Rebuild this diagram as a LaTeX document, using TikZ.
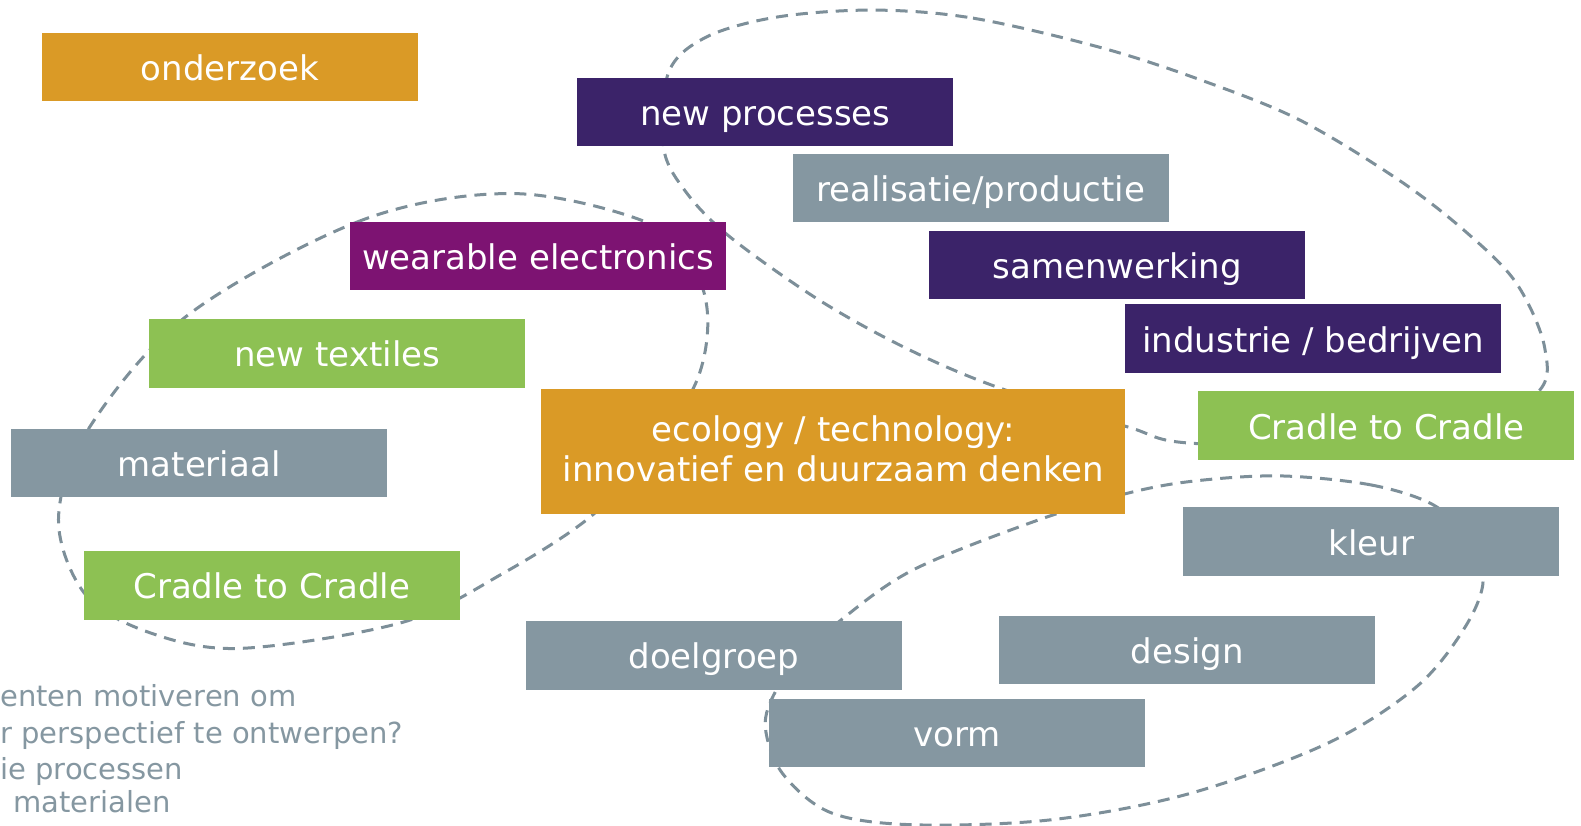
\documentclass[tikz,border=0pt]{standalone}
\usepackage{fontspec}
\setmainfont{DejaVu Sans}
\definecolor{cOrange}{HTML}{DA9A26}
\definecolor{cPurple}{HTML}{3B2369}
\definecolor{cGray}{HTML}{8597A1}
\definecolor{cGreen}{HTML}{8DC153}
\definecolor{cMagenta}{HTML}{7D1372}
\definecolor{cDash}{HTML}{7D8F99}
\begin{document}
\begin{tikzpicture}[x=0.5042pt,y=-0.5042pt,
  box/.style={rectangle, inner sep=0pt, text=white,
    font=\fontsize{17pt}{20.2pt}\selectfont,
    minimum width=188pt, minimum height=34.3pt,
    text height=13.6pt, text depth=0pt},
  loop/.style={draw=cDash, line width=1.5pt, dash pattern=on 6pt off 4pt},
  note/.style={anchor=base west, inner sep=0pt, text=cGray,
    font=\fontsize{14.5pt}{17pt}\selectfont}]
\useasboundingbox (0,0) rectangle (1568,819);
\clip (0,0) rectangle (1568,819);

% dashed loops (drawn first, boxes cover them)
\draw[loop] plot[smooth cycle, tension=0.55] coordinates {
  (510,192) (360,218) (187,312) (88,425) (58,515) (85,590) (150,628)
  (240,643) (400,617) (500,568) (585,513) (645,450) (690,380) (702,320)
  (690,270) (645,222)};
\draw[loop] plot[smooth cycle, tension=0.55] coordinates {
  (866,10) (965,18) (1091,47) (1190,79) (1289,119) (1388,179) (1455,231)
  (1504,281) (1532,345) (1522,392) (1420,440) (1188,440) (1117,423)
  (992,385) (902,347) (813,298) (724,235) (680,190) (658,146) (663,72)
  (700,37) (770,17)};
\draw[loop] plot[smooth cycle, tension=0.55] coordinates {
  (1270,472) (1360,481) (1422,501) (1455,535) (1471,575) (1453,622)
  (1405,681) (1317,737) (1180,787) (1043,813) (906,818) (824,806)
  (776,767) (759,721) (769,686) (795,652) (834,615) (906,565)
  (1029,516) (1119,489) (1185,477)};

% boxes
\node[box, fill=cOrange] (onderzoek) at (228,66.5) {onderzoek};
\node[box, fill=cPurple] (newproc) at (759,111) {new processes};
\node[box, fill=cGray] (realisatie) at (972.5,186.5) {realisatie/productie};
\node[box, fill=cPurple] (samenwerking) at (1108,263) {samenwerking};
\node[box, fill=cPurple] (industrie) at (1302.5,336) {industrie / bedrijven};
\node[box, fill=cGreen] (ctcR) at (1375,422) {Cradle to Cradle};
\node[box, fill=cGray] (kleur) at (1360,537) {kleur};
\node[box, fill=cGray] (design) at (1177.5,644.5) {design};
\node[box, fill=cGray] (doelgroep) at (708,650) {doelgroep};
\node[box, fill=cGray] (vorm) at (949.5,727) {vorm};
\node[box, fill=cMagenta] (wearable) at (533.5,254) {wearable electronics};
\node[box, fill=cGreen] (textiles) at (334.5,350.5) {new textiles};
\node[box, fill=cGray] (materiaal) at (197.5,459) {materiaal};
\node[box, fill=cGreen] (ctcL) at (269.5,580.5) {Cradle to Cradle};
\node[box, fill=cOrange, align=center, minimum width=292pt, minimum height=62.5pt,
  text height=30.2pt, text depth=0pt] (ecology) at (826.5,448)
  {ecology / technology:\\innovatief en duurzaam denken};

% cut-off text at bottom left
\node[note] (n1) at (0,701) {enten motiveren om};
\node[note] (n2) at (0,737) {r perspectief te ontwerpen?};
\node[note] (n3) at (0,773) {ie processen};
\node[note] (n4) at (13,806) {materialen};
\end{tikzpicture}
\end{document}
